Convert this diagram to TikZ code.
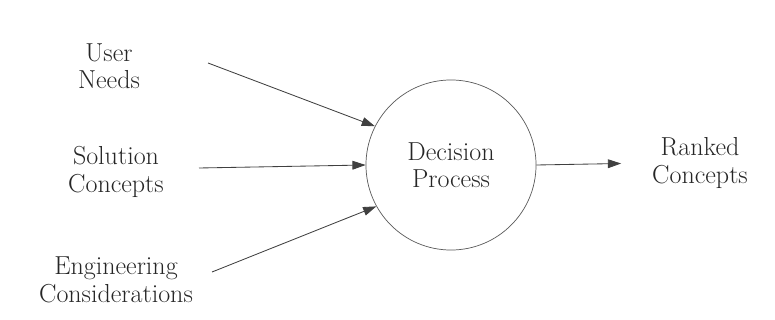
\documentclass[tikz,border=0pt]{standalone}
\usetikzlibrary{positioning}
\usetikzlibrary{arrows.meta}
\tikzset{
    txtnode/.style = {align=center, inner sep=2pt, font=\fontsize{18.5}{19.5}\selectfont, text=black!85},
    procnode/.style = {circle, draw=black!65, line width=0.5pt, minimum size=4.25cm, inner sep=0pt, align=center, font=\fontsize{18.5}{19.5}\selectfont, text=black!85},
    edgea/.style = {-{Triangle[length=0.33cm,width=0.22cm]}, draw=black!75, line width=0.6pt}, % input / output
}

\begin{document}
\begin{tikzpicture}[x=0.025cm, y=-0.025cm]
    \useasboundingbox (0,0) rectangle (775,320);

  \node[txtnode] (un) at (109,66) {User\\Needs};
  \node[txtnode] (sc) at (116,172) {Solution\\Concepts};
  \node[txtnode] (ec) at (116,280) {Engineering\\Considerations};
  \node[procnode] (dp) at (451,165) {Decision\\Process};
  \node[txtnode] (rc) at (700,163) {Ranked\\Concepts};

  \coordinate (un-out) at (208,63);
  \coordinate (sc-out) at (199,168);
  \coordinate (ec-out) at (212,272);

  \draw[edgea] (un-out) -- (dp.153);
  \draw[edgea] (sc-out) -- (dp.180);
  \draw[edgea] (ec-out) -- (dp.209);
  \draw[edgea] (dp.east) -- (rc.west) [shorten >=0.7cm];

\end{tikzpicture}
\end{document}
